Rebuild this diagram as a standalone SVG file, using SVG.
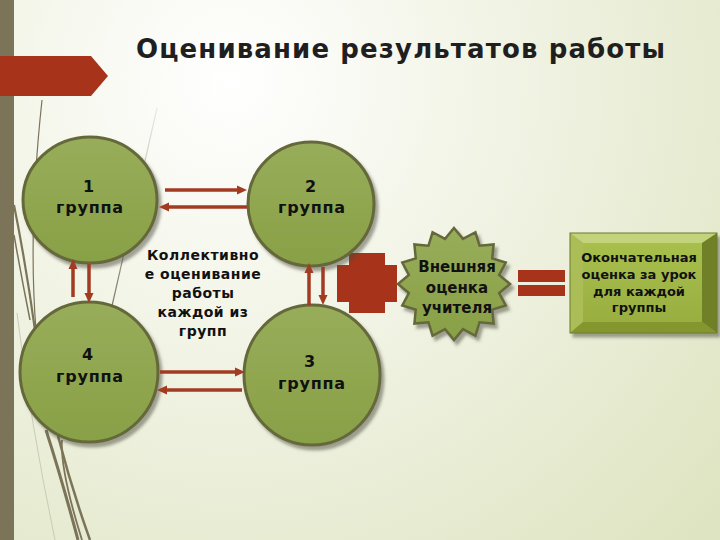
<svg xmlns="http://www.w3.org/2000/svg" width="720" height="540" viewBox="0 0 720 540">
<defs>
<radialGradient id="bg" cx="230" cy="80" r="680" gradientUnits="userSpaceOnUse">
<stop offset="0" stop-color="#ffffff"/>
<stop offset="0.35" stop-color="#f3f5e8"/>
<stop offset="1" stop-color="#dde3bf"/>
</radialGradient>
<linearGradient id="gc" x1="0" y1="0" x2="0" y2="1">
<stop offset="0" stop-color="#98ad5a"/>
<stop offset="1" stop-color="#88a046"/>
</linearGradient>
<linearGradient id="face" x1="0" y1="0" x2="0" y2="1">
<stop offset="0" stop-color="#aac14e"/>
<stop offset="1" stop-color="#97ac3f"/>
</linearGradient>
<linearGradient id="diag" x1="157" y1="108" x2="112" y2="306" gradientUnits="userSpaceOnUse">
<stop offset="0" stop-color="#8a8672" stop-opacity="0.15"/>
<stop offset="1" stop-color="#6f6a55" stop-opacity="0.9"/>
</linearGradient>
<filter id="sh" x="-20%" y="-20%" width="140%" height="140%">
<feDropShadow dx="3" dy="4" stdDeviation="1.5" flood-color="#4a4a3a" flood-opacity="0.5"/>
</filter>
<marker id="ah" markerUnits="userSpaceOnUse" markerWidth="10" markerHeight="10" refX="4" refY="5" orient="auto">
<path d="M0,0.5 L10,5 L0,9.5 z" fill="#a33a22"/>
</marker>
<style>
.node{fill:url(#gc);stroke:#65683a;stroke-width:3;filter:url(#sh)}
.lbl{font-family:"DejaVu Sans","Liberation Sans",sans-serif;font-weight:bold;fill:#111;text-anchor:middle}
.g{font-size:16px;letter-spacing:0.8px}
.c{font-size:14px;letter-spacing:0.5px}
.arr{stroke:#a33a22;stroke-width:3.5;fill:none;marker-end:url(#ah)}
.red{fill:#a6331a}
.wisp{fill:none;stroke:#7b7459}
</style>
</defs>
<rect width="720" height="540" fill="url(#bg)"/>
<g id="decor">
<path class="wisp" d="M42,100 Q28,230 36,330" stroke-width="1.2"/>
<path class="wisp" d="M14,205 Q26,265 35,330" stroke-width="2.2"/>
<path class="wisp" d="M14,235 Q22,280 30,320" stroke-width="1.5"/>
<path class="wisp" d="M46,430 Q62,480 78,540" stroke-width="3"/>
<path class="wisp" d="M58,436 Q72,490 90,540" stroke-width="2.5"/>
<path class="wisp" d="M62,440 Q60,470 82,540" stroke-width="1.8"/>
<path d="M17,313 Q30,420 55,540" fill="none" stroke="#c9cbb6" stroke-width="1"/>
<line x1="157" y1="108" x2="112" y2="306" stroke="url(#diag)" stroke-width="1.2"/>
<rect x="0" y="0" width="14" height="540" fill="#7b7459"/>
<path class="red" d="M0,56 L91,56 L108,76 L91,96 L0,96 z"/>
</g>
<text class="lbl" x="136" y="58" font-size="26" textLength="529" lengthAdjust="spacing" style="text-anchor:start;fill:#1f1f1f">Оценивание результатов работы</text>
<g id="plus"><path class="red" d="M349,253 H385 V265 H397 V302 H385 V313 H349 V302 H337 V265 H349 z"/></g>
<g id="n1"><ellipse class="node" cx="90" cy="200" rx="67" ry="63"/>
<text class="lbl g" x="89" y="192">1</text><text class="lbl g" x="90" y="213">группа</text></g>
<g id="n2"><ellipse class="node" cx="311" cy="204" rx="63" ry="62"/>
<text class="lbl g" x="311" y="192">2</text><text class="lbl g" x="312" y="213">группа</text></g>
<g id="n4"><ellipse class="node" cx="89" cy="372" rx="69" ry="70"/>
<text class="lbl g" x="88" y="360">4</text><text class="lbl g" x="90" y="382">группа</text></g>
<g id="n3"><ellipse class="node" cx="312" cy="375" rx="68" ry="70"/>
<text class="lbl g" x="310" y="367">3</text><text class="lbl g" x="312" y="389">группа</text></g>
<g id="center-label">
<text class="lbl c" x="203" y="260">Коллективно</text>
<text class="lbl c" x="203" y="279">е оценивание</text>
<text class="lbl c" x="203" y="298">работы</text>
<text class="lbl c" x="203" y="317">каждой из</text>
<text class="lbl c" x="203" y="336">групп</text>
</g>
<g id="connectors">
<line class="arr" x1="165" y1="190" x2="241" y2="190"/>
<line class="arr" x1="247" y1="207" x2="165" y2="207"/>
<line class="arr" x1="160" y1="372" x2="239" y2="372"/>
<line class="arr" x1="242" y1="390" x2="163" y2="390"/>
<line class="arr" x1="73" y1="297" x2="73" y2="265"/>
<line class="arr" x1="89" y1="264" x2="89" y2="297"/>
<line class="arr" x1="309" y1="305" x2="309" y2="269"/>
<line class="arr" x1="323" y1="267" x2="323" y2="299"/>
</g>
<g id="star">
<polygon class="node" points="454,228 462.97,238.88 475.43,232.26 479.56,245.75 493.6,244.4 492.25,258.44 505.74,262.57 499.12,275.03 510,284 499.12,292.97 505.74,305.43 492.25,309.56 493.6,323.6 479.56,322.25 475.43,335.74 462.97,329.12 454,340 445.03,329.12 432.57,335.74 428.44,322.25 414.4,323.6 415.75,309.56 402.26,305.43 408.88,292.97 398,284 408.88,275.03 402.26,262.57 415.75,258.44 414.4,244.4 428.44,245.75 432.57,232.26 445.03,238.88" style="stroke-width:2.5"/>
<text class="lbl" x="457" y="272" font-size="15">Внешняя</text>
<text class="lbl" x="457" y="293" font-size="15">оценка</text>
<text class="lbl" x="457" y="313" font-size="15">учителя</text>
</g>
<g id="equals">
<rect class="red" x="518" y="270" width="47" height="12"/>
<rect class="red" x="518" y="285" width="47" height="11"/>
</g>
<g id="result">
<g filter="url(#sh)">
<rect x="570" y="233" width="147" height="100" fill="url(#face)"/>
<polygon points="570,233 717,233 702,243 583,243" fill="#c3d37c"/>
<polygon points="570,233 583,243 583,322 570,333" fill="#aabd57"/>
<polygon points="717,233 717,333 702,322 702,243" fill="#6f8028"/>
<polygon points="570,333 717,333 702,322 583,322" fill="#84972f"/>
<rect x="570" y="233" width="147" height="100" fill="none" stroke="#6a7a2a" stroke-width="1"/>
</g>
<text class="lbl" x="639" y="262" font-size="13">Окончательная</text>
<text class="lbl" x="639" y="279" font-size="13">оценка за урок</text>
<text class="lbl" x="639" y="296" font-size="13">для каждой</text>
<text class="lbl" x="639" y="312" font-size="13">группы</text>
</g>
</svg>
